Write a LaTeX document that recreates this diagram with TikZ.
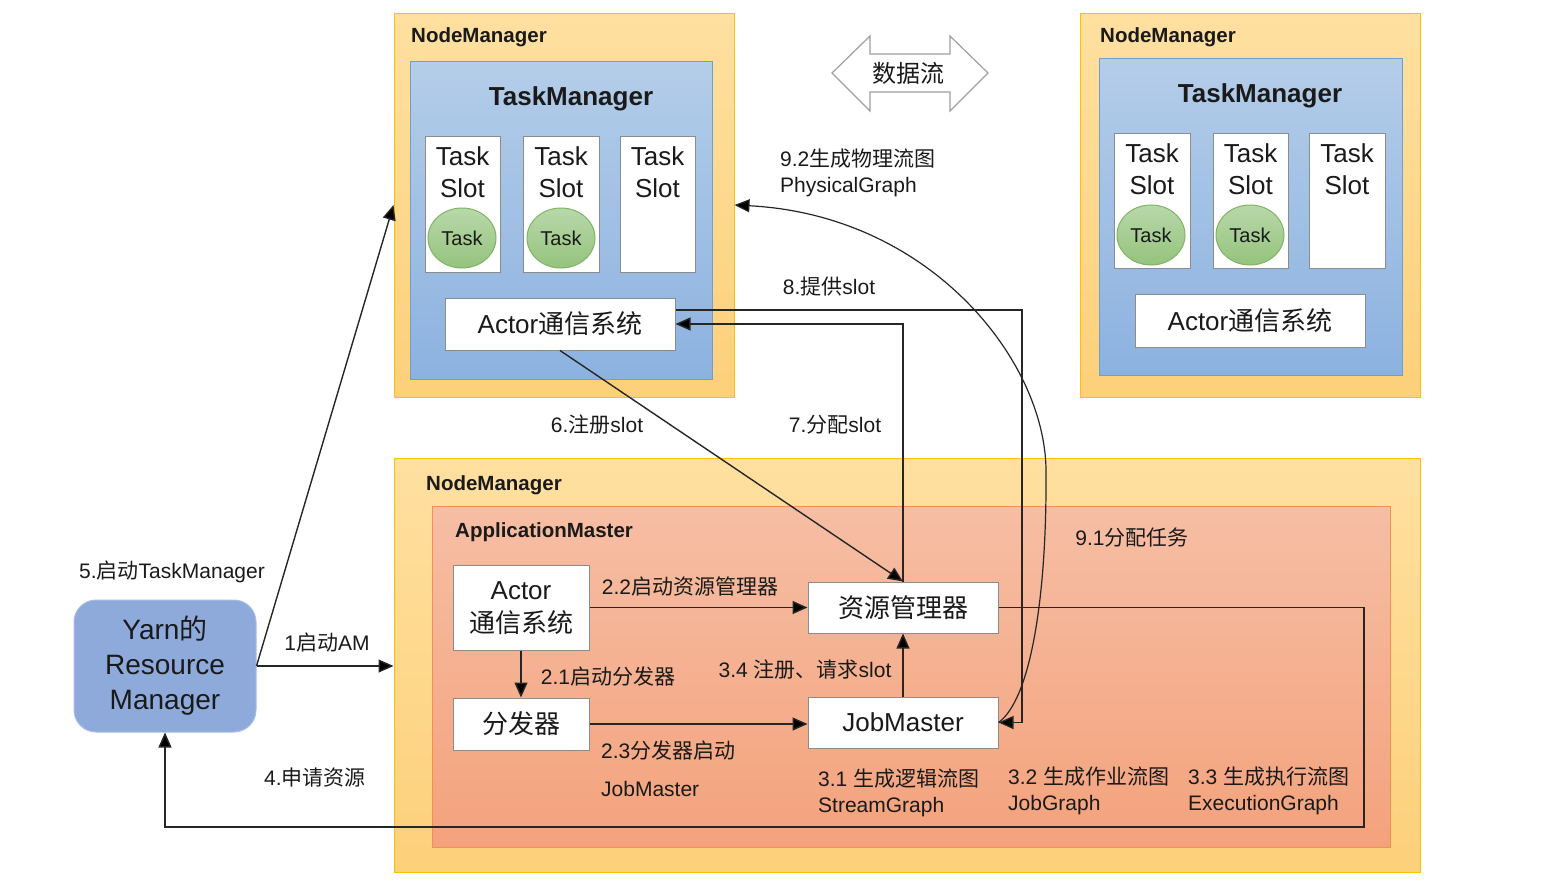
\documentclass[tikz,border=0pt]{standalone}
\usepackage{fontspec}
\setmainfont{Liberation Sans}
\newfontfamily\cjk{Noto Sans CJK SC}
\newcommand\zhc[1]{{\cjk #1}}
\usetikzlibrary{arrows.meta,shapes.geometric}
\definecolor{nmtop}{HTML}{FFE0A0}
\definecolor{nmbot}{HTML}{FDD07A}
\definecolor{nmline}{HTML}{FFC000}
\definecolor{tmtop}{HTML}{B4CDE9}
\definecolor{tmbot}{HTML}{8CB2E0}
\definecolor{tmline}{HTML}{6D9ED6}
\definecolor{amtop}{HTML}{F6BEA4}
\definecolor{ambot}{HTML}{F4A27C}
\definecolor{amline}{HTML}{F1914F}
\definecolor{tasktop}{HTML}{B8D8AA}
\definecolor{taskbot}{HTML}{95C37C}
\definecolor{taskline}{HTML}{7FB562}
\definecolor{rmfill}{HTML}{8EAADB}
\definecolor{rmline}{HTML}{A9BFE3}
\definecolor{boxline}{HTML}{8C8C8C}
\definecolor{conncol}{HTML}{262626}
\definecolor{txt}{HTML}{1A1A1A}
\tikzset{
  nmbox/.style={draw=nmline,line width=1pt,top color=nmtop,bottom color=nmbot,inner sep=0},
  tmbox/.style={draw=tmline,line width=1pt,top color=tmtop,bottom color=tmbot,inner sep=0},
  ambox/.style={draw=amline,line width=1pt,top color=amtop,bottom color=ambot,inner sep=0},
  wbox/.style={draw=boxline,line width=1pt,fill=white,inner sep=0},
  taskell/.style={ellipse,draw=taskline,line width=1pt,top color=tasktop,bottom color=taskbot,inner sep=0,minimum width=68pt,minimum height=60pt,font=\fontsize{20}{24}\selectfont,text=txt},
  bigtxt/.style={font=\fontsize{26}{32}\selectfont,text=txt,align=center,inner sep=0},
  lbl/.style={font=\fontsize{21}{26}\selectfont,text=txt,inner sep=0},
  lbll/.style={lbl,anchor=west,align=left},
  boldlbl/.style={font=\bfseries\fontsize{20.5}{24}\selectfont,text=txt,inner sep=0,anchor=west},
  tmtitle/.style={font=\bfseries\fontsize{26}{30}\selectfont,text=txt,inner sep=0},
  conn/.style={draw=conncol,line width=1.4pt,-{Triangle[length=15pt,width=13pt,fill=black]}},
  plain/.style={draw=conncol,line width=1.4pt}
}
\begin{document}
\begin{tikzpicture}[x=1pt,y=-1pt]
\useasboundingbox (0,0) rectangle (1546,894);
% ---------------- top-left NodeManager
\node[nmbox,minimum width=340pt,minimum height=384pt] (nmTL) at (564,205) {};
\node[boldlbl] (nmTLl) at (411,37) {NodeManager};
\node[tmbox,minimum width=302pt,minimum height=318pt] (tmTL) at (561,220) {};
\node[tmtitle] (tmTLl) at (571,99) {TaskManager};
\node[wbox,minimum width=75pt,minimum height=136pt] (sTL1) at (462.5,204) {};
\node[wbox,minimum width=76pt,minimum height=136pt] (sTL2) at (561,204) {};
\node[wbox,minimum width=75pt,minimum height=136pt] (sTL3) at (657.5,204) {};
\node[bigtxt] (sTL1t) at (462.5,172) {Task\\Slot};
\node[bigtxt] (sTL2t) at (561,172) {Task\\Slot};
\node[bigtxt] (sTL3t) at (657.5,172) {Task\\Slot};
\node[taskell] (tTL1) at (462,238) {Task};
\node[taskell] (tTL2) at (561,238) {Task};
\node[wbox,minimum width=230pt,minimum height=52pt] (actTL) at (560,324) {};
\node[bigtxt] (actTLt) at (560,324) {Actor\zhc{通信系统}};
% ---------------- top-right NodeManager
\node[nmbox,minimum width=340pt,minimum height=384pt] (nmTR) at (1250,205) {};
\node[boldlbl] (nmTRl) at (1100,37) {NodeManager};
\node[tmbox,minimum width=303pt,minimum height=317pt] (tmTR) at (1250.5,216.5) {};
\node[tmtitle] (tmTRl) at (1260,96) {TaskManager};
\node[wbox,minimum width=76pt,minimum height=135pt] (sTR1) at (1152,200.5) {};
\node[wbox,minimum width=75pt,minimum height=135pt] (sTR2) at (1250.5,200.5) {};
\node[wbox,minimum width=76pt,minimum height=135pt] (sTR3) at (1347,200.5) {};
\node[bigtxt] (sTR1t) at (1152,169) {Task\\Slot};
\node[bigtxt] (sTR2t) at (1250.5,169) {Task\\Slot};
\node[bigtxt] (sTR3t) at (1347,169) {Task\\Slot};
\node[taskell] (tTR1) at (1151,235) {Task};
\node[taskell] (tTR2) at (1250,235) {Task};
\node[wbox,minimum width=230pt,minimum height=53pt] (actTR) at (1250,320.5) {};
\node[bigtxt] (actTRt) at (1250,320.5) {Actor\zhc{通信系统}};
% ---------------- data flow double arrow
\draw[draw=gray!75,fill=white,line width=1.2pt] (832,73) -- (870,36) -- (870,54) -- (950,54) -- (950,36) -- (988,73) -- (950,111) -- (950,92) -- (870,92) -- (870,111) -- cycle;
\node[font=\cjk\fontsize{24}{28}\selectfont,text=txt,inner sep=0] (flow) at (908,73) {数据流};
% ---------------- bottom NodeManager
\node[nmbox,minimum width=1026pt,minimum height=414pt] (nmB) at (907,665) {};
\node[boldlbl] (nmBl) at (426,485) {NodeManager};
\node[ambox,minimum width=958pt,minimum height=341pt] (am) at (911,676.5) {};
\node[boldlbl] (aml) at (455,532) {ApplicationMaster};
\node[wbox,minimum width=136pt,minimum height=85pt] (actB) at (521,607.5) {};
\node[bigtxt,font=\fontsize{26}{33}\selectfont] (actBt) at (521,608) {Actor\\\zhc{通信系统}};
\node[wbox,minimum width=136pt,minimum height=52pt] (fen) at (521,724) {};
\node[bigtxt,font=\cjk\fontsize{26}{32}\selectfont] (fent) at (521,724) {分发器};
\node[wbox,minimum width=190pt,minimum height=51pt] (res) at (903,607.5) {};
\node[bigtxt,font=\cjk\fontsize{26}{32}\selectfont] (rest) at (903,607.5) {资源管理器};
\node[wbox,minimum width=190pt,minimum height=51pt] (jm) at (903,722.5) {};
\node[bigtxt] (jmt) at (903,722.5) {JobMaster};
% ---------------- Yarn RM
\node[draw=rmline,line width=1pt,fill=rmfill,rounded corners=22pt,minimum width=182pt,minimum height=132pt,inner sep=0] (rm) at (165,666) {};
\node[bigtxt,font=\fontsize{28}{35}\selectfont] (rmt) at (165,666) {Yarn\zhc{的}\\Resource\\Manager};
% ---------------- connectors
\draw[conn] (rm.east) -- (rm.east -| nmB.west);
\draw[conn] (rm.east) -- (nmTL.west);
\coordinate (c4) at (1364,827);
\draw[conn] (res.east) -| (c4) -| (rm.south);
\draw[conn] (actB.east) -- (res.west);
\draw[conn] (actB.south) -- (fen.north);
\draw[conn] (fen.east) -- (fen.east -| jm.west);
\draw[conn] (jm.north) -- (res.south);
\draw[conn] (actTL.south) -- (res.north);
\draw[conn] (res.north) |- (actTL.east);
\coordinate (c8) at (1022,722.5);
\draw[plain] ([yshift=14pt]actTL.east) -| (c8) -- (jm.east);
\draw[conn] (c8) -- (jm.east);
\draw[conn,line width=1.2pt] (jm.east) .. controls (1030,700) and (1047,600) .. (1046,470) .. controls (1045,360) and (930,215) .. (nmTL.east);
% ---------------- labels
\node[lbl] (l1) at (327,643) {1\zhc{启动}AM};
\node[lbl] (l5) at (172,572) {5.\zhc{启动}TaskManager};
\node[lbl] (l4) at (315,778) {4.\zhc{申请资源}};
\node[lbl] (l22) at (690,586) {2.2\zhc{启动资源管理器}};
\node[lbl] (l21) at (608,676) {2.1\zhc{启动分发器}};
\node[lbll] (l23) at (601,750) {2.3\zhc{分发器启动}};
\node[lbll] (l23b) at (601,789) {JobMaster};
\node[lbl] (l34) at (805,670) {3.4 \zhc{注册、请求}slot};
\node[lbll] (l31) at (818,793) {3.1 \zhc{生成逻辑流图}\\StreamGraph};
\node[lbll] (l32) at (1008,791) {3.2 \zhc{生成作业流图}\\JobGraph};
\node[lbll] (l33) at (1188,791) {3.3 \zhc{生成执行流图}\\ExecutionGraph};
\node[lbl] (l6) at (597,425) {6.\zhc{注册}slot};
\node[lbl] (l7) at (835,425) {7.\zhc{分配}slot};
\node[lbl] (l8) at (829,287) {8.\zhc{提供}slot};
\node[lbll] (l92) at (780,173) {9.2\zhc{生成物理流图}\\PhysicalGraph};
\node[lbl] (l91) at (1132,538) {9.1\zhc{分配任务}};
\end{tikzpicture}
\end{document}
